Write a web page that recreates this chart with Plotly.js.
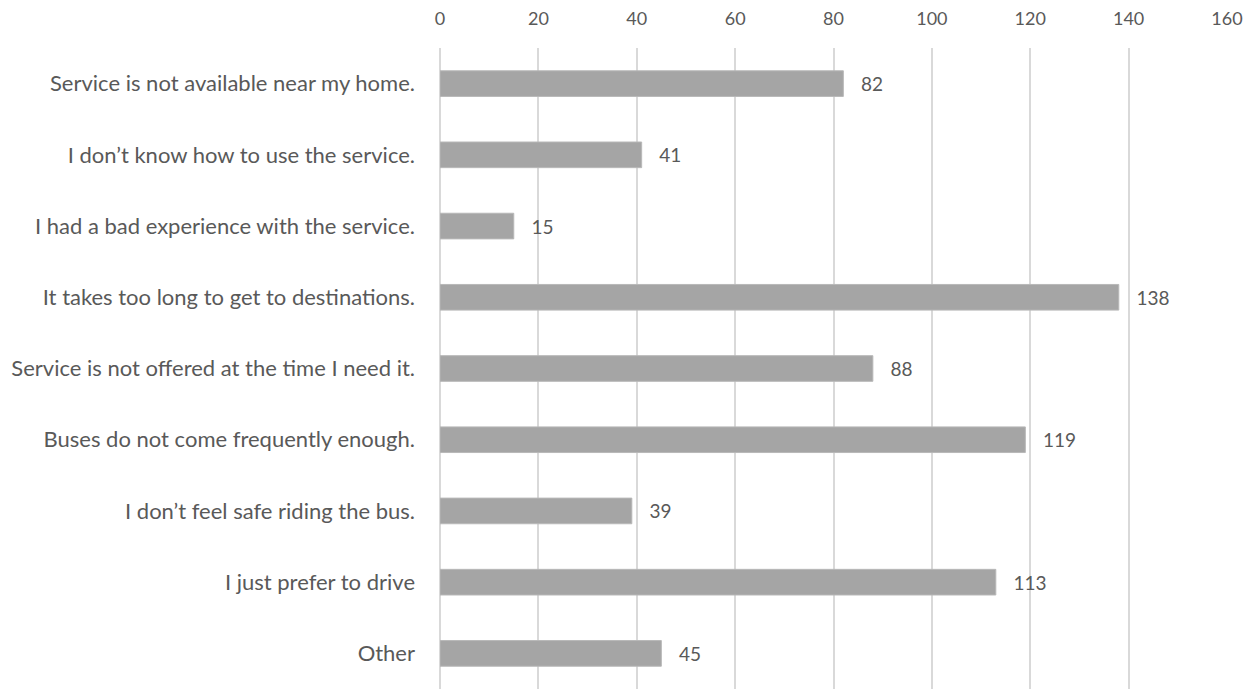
<!DOCTYPE html>
<html>
<head>
<meta charset="utf-8">
<script src="https://cdn.plot.ly/plotly-3.0.1.min.js"></script>
<style>html,body{margin:0;padding:0;background:#fff;}#chart{width:1259px;height:689px;}</style>
</head>
<body>
<div id="chart"></div>
<script>
const categories = [
  "Service is not available near my home.",
  "I don\u2019t know how to use the service.",
  "I had a bad experience with the service.",
  "It takes too long to get to destinations.",
  "Service is not offered at the time I need it.",
  "Buses do not come frequently enough.",
  "I don\u2019t feel safe riding the bus.",
  "I just prefer to drive",
  "Other"
];
const values = [82, 41, 15, 138, 88, 119, 39, 113, 45];
const xTicks = [0, 20, 40, 60, 80, 100, 120, 140, 160];

const trace = {
  type: 'bar',
  orientation: 'h',
  x: values,
  y: categories,
  marker: {color: '#a5a5a5', line: {color: '#b8b8b8', width: 1}},
  width: 0.36,
  text: values.map(v => '\u00a0\u00a0\u00a0' + v),
  textposition: 'outside',
  cliponaxis: false,
  textfont: {family: 'Lato, sans-serif', size: 19, color: '#595959'},
  hoverinfo: 'none'
};

const layout = {
  width: 1259,
  height: 689,
  margin: {l: 440, r: 32, t: 48, b: 0},
  paper_bgcolor: '#ffffff',
  plot_bgcolor: '#ffffff',
  showlegend: false,
  font: {family: 'Lato, sans-serif', color: '#595959'},
  xaxis: {
    side: 'top',
    range: [0, 160],
    tickvals: xTicks,
    ticktext: xTicks.map(String),
    showgrid: true,
    gridcolor: '#d9d9d9',
    gridwidth: 2,
    zeroline: true,
    zerolinecolor: '#d9d9d9',
    zerolinewidth: 2,
    showline: false,
    ticks: '',
    ticklabelstandoff: 18,
    tickfont: {family: 'Lato, sans-serif', size: 18, color: '#595959'},
    fixedrange: true
  },
  yaxis: {
    autorange: 'reversed',
    showgrid: false,
    zeroline: false,
    showline: false,
    ticks: '',
    ticklabelstandoff: 24,
    tickfont: {family: 'Lato, sans-serif', size: 22, color: '#595959'},
    fixedrange: true
  }
};

Plotly.newPlot('chart', [trace], layout, {displayModeBar: false, staticPlot: true});
</script>
</body>
</html>
